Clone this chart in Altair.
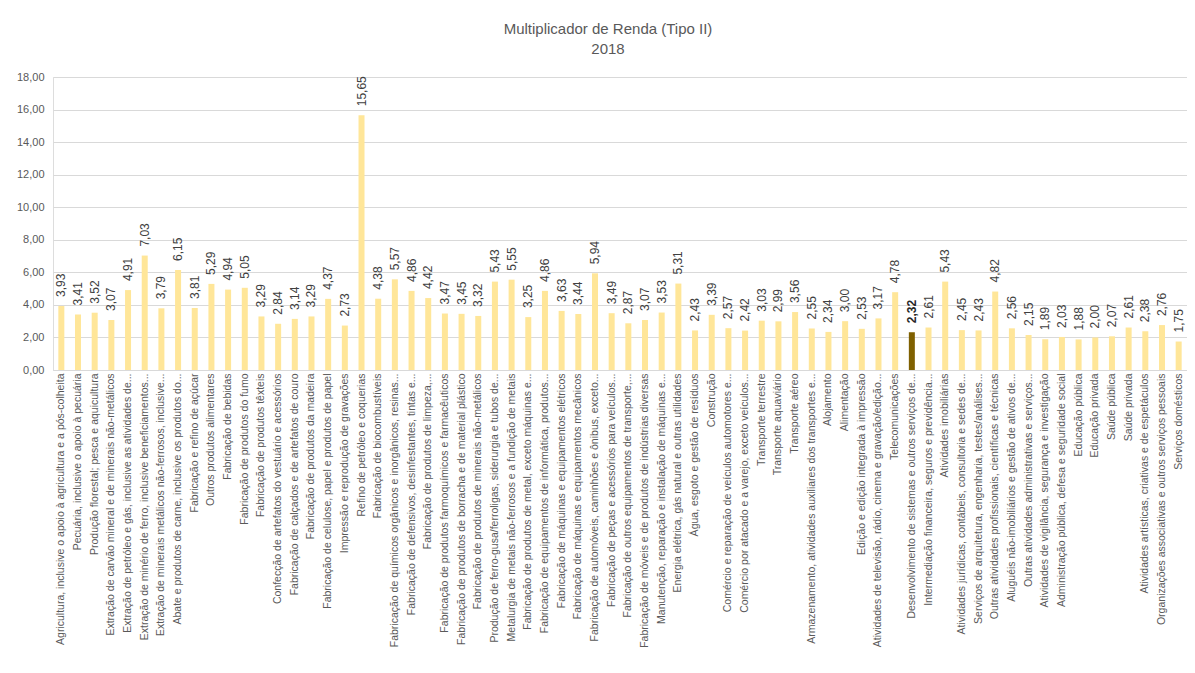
import altair as alt
import pandas as pd

categories = [
    "Agricultura, inclusive o apoio à agricultura e a pós-colheita",
    "Pecuária, inclusive o apoio à pecuária",
    "Produção florestal; pesca e aquicultura",
    "Extração de carvão mineral e de minerais não-metálicos",
    "Extração de petróleo e gás, inclusive as atividades de...",
    "Extração de minério de ferro, inclusive beneficiamentos...",
    "Extração de minerais metálicos não-ferrosos, inclusive...",
    "Abate e produtos de carne, inclusive os produtos do...",
    "Fabricação e refino de açúcar",
    "Outros produtos alimentares",
    "Fabricação de bebidas",
    "Fabricação de produtos do fumo",
    "Fabricação de produtos têxteis",
    "Confecção de artefatos do vestuário e acessórios",
    "Fabricação de calçados e de artefatos de couro",
    "Fabricação de produtos da madeira",
    "Fabricação de celulose, papel e produtos de papel",
    "Impressão e reprodução de gravações",
    "Refino de petróleo e coquerias",
    "Fabricação de biocombustíveis",
    "Fabricação de químicos orgânicos e inorgânicos, resinas...",
    "Fabricação de defensivos, desinfestantes, tintas e...",
    "Fabricação de produtos de limpeza,...",
    "Fabricação de produtos farmoquímicos e farmacêuticos",
    "Fabricação de produtos de borracha e de material plástico",
    "Fabricação de produtos de minerais não-metálicos",
    "Produção de ferro-gusa/ferroligas, siderurgia e tubos de...",
    "Metalurgia de metais não-ferrosos e a fundição de metais",
    "Fabricação de produtos de metal, exceto máquinas e...",
    "Fabricação de equipamentos de informática, produtos...",
    "Fabricação de máquinas e equipamentos elétricos",
    "Fabricação de máquinas e equipamentos mecânicos",
    "Fabricação de automóveis, caminhões e ônibus, exceto...",
    "Fabricação de peças e acessórios para veículos...",
    "Fabricação de outros equipamentos de transporte,...",
    "Fabricação de móveis e de produtos de indústrias diversas",
    "Manutenção, reparação e instalação de máquinas e...",
    "Energia elétrica, gás natural e outras utilidades",
    "Água, esgoto e gestão de resíduos",
    "Construção",
    "Comércio e reparação de veículos automotores e...",
    "Comércio por atacado e a varejo, exceto veículos...",
    "Transporte terrestre",
    "Transporte aquaviário",
    "Transporte aéreo",
    "Armazenamento, atividades auxiliares dos transportes e...",
    "Alojamento",
    "Alimentação",
    "Edição e edição integrada à impressão",
    "Atividades de televisão, rádio, cinema e gravação/edição...",
    "Telecomunicações",
    "Desenvolvimento de sistemas e outros serviços de...",
    "Intermediação financeira, seguros e previdência...",
    "Atividades imobiliárias",
    "Atividades jurídicas, contábeis, consultoria e sedes de...",
    "Serviços de arquitetura, engenharia, testes/análises...",
    "Outras atividades profissionais, científicas e técnicas",
    "Aluguéis não-imobiliários e gestão de ativos de...",
    "Outras atividades administrativas e serviços...",
    "Atividades de vigilância, segurança e investigação",
    "Administração pública, defesa e seguridade social",
    "Educação pública",
    "Educação privada",
    "Saúde pública",
    "Saúde privada",
    "Atividades artísticas, criativas e de espetáculos",
    "Organizações associativas e outros serviços pessoais",
    "Serviços domésticos",
]

values = [
    3.93, 3.41, 3.52, 3.07, 4.91, 7.03, 3.79, 6.15, 3.81, 5.29,
    4.94, 5.05, 3.29, 2.84, 3.14, 3.29, 4.37, 2.73, 15.65, 4.38,
    5.57, 4.86, 4.42, 3.47, 3.45, 3.32, 5.43, 5.55, 3.25, 4.86,
    3.63, 3.44, 5.94, 3.49, 2.87, 3.07, 3.53, 5.31, 2.43, 3.39,
    2.57, 2.42, 3.03, 2.99, 3.56, 2.55, 2.34, 3.00, 2.53, 3.17,
    4.78, 2.32, 2.61, 5.43, 2.45, 2.43, 4.82, 2.56, 2.15, 1.89,
    2.03, 1.88, 2.00, 2.07, 2.61, 2.38, 2.76, 1.75,
]

highlight = "Desenvolvimento de sistemas e outros serviços de..."
title_lines = ["Multiplicador de Renda (Tipo II)", "2018"]
y_ticks = [0, 2, 4, 6, 8, 10, 12, 14, 16, 18]

df = pd.DataFrame({"cat": categories, "v": values})

FONT = "Liberation Sans"
GRAY = "#595959"

base = alt.Chart(df).transform_calculate(
    label="replace(format(datum.v, '.2f'), '.', ',')"
)

x_enc = alt.X(
    "cat:N",
    sort=None,
    title=None,
    scale=alt.Scale(paddingInner=0.64, paddingOuter=0.32),
    axis=alt.Axis(
        labelAngle=-90,
        labelLimit=400,
        labelFontSize=10.5,
        labelColor=GRAY,
        labelFont=FONT,
        ticks=False,
        domainColor="#D9D9D9",
        labelPadding=3,
    ),
)
y_enc = alt.Y(
    "v:Q",
    title=None,
    scale=alt.Scale(domain=[0, 18]),
    axis=alt.Axis(
        values=y_ticks,
        labelExpr="replace(format(datum.value, '.2f'), '.', ',')",
        domain=False,
        ticks=False,
        gridColor="#D9D9D9",
        labelFontSize=11,
        labelColor=GRAY,
        labelFont=FONT,
        labelPadding=9,
    ),
)

bars = base.mark_bar().encode(
    x=x_enc,
    y=y_enc,
    color=alt.condition(
        alt.datum.cat == highlight, alt.value("#7F6000"), alt.value("#FFE699")
    ),
)

labels = base.transform_filter(alt.datum.cat != highlight).mark_text(
    angle=270, align="left", baseline="middle", dx=9,
    fontSize=12, font=FONT, color="#404040",
).encode(x=x_enc, y=y_enc, text="label:N")

labels_hl = base.transform_filter(alt.datum.cat == highlight).mark_text(
    angle=270, align="left", baseline="middle", dx=9,
    fontSize=12, font=FONT, color="#262626", fontWeight="bold",
).encode(x=x_enc, y=y_enc, text="label:N")

chart = (
    alt.layer(bars, labels, labels_hl)
    .properties(
        width=1134,
        height=293,
        autosize=alt.AutoSizeParams(type="none"),
        padding={"left": 45, "top": 69, "right": 0, "bottom": 295},
        title=alt.TitleParams(
            text=title_lines,
            fontSize=15,
            fontWeight="normal",
            font=FONT,
            color=GRAY,
            anchor="middle",
            dx=-12,
            offset=14,
            lineHeight=20,
        ),
    )
    .configure_view(stroke=None)
    .configure(background="white")
)

chart.save("out.html", embed_options={"renderer": "svg", "actions": False})
